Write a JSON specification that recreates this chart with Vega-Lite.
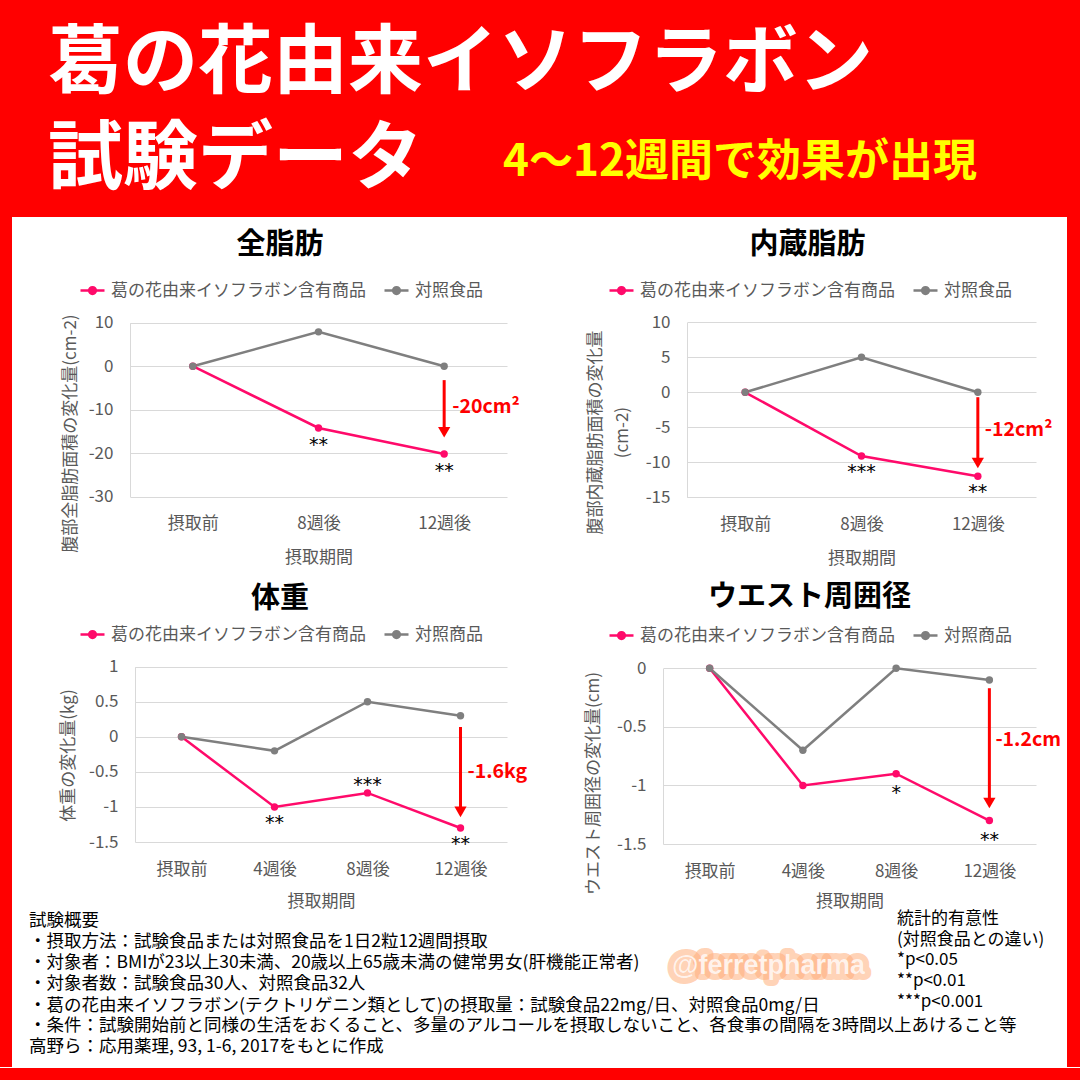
{
  "$schema": "https://vega.github.io/schema/vega-lite/v6.json",
  "background": "#ffffff",
  "padding": 0,
  "spacing": 0,
  "resolve": {"scale": {"color": "independent", "x": "independent", "y": "independent"}, "legend": {"color": "independent"}, "axis": {"x": "independent", "y": "independent"}},
  "datasets": {
    "fat_total": [
      {"period": "摂取前", "group": "葛の花由来イソフラボン含有商品", "value": 0},
      {"period": "8週後", "group": "葛の花由来イソフラボン含有商品", "value": -14.2},
      {"period": "12週後", "group": "葛の花由来イソフラボン含有商品", "value": -20.2},
      {"period": "摂取前", "group": "対照食品", "value": 0},
      {"period": "8週後", "group": "対照食品", "value": 7.9},
      {"period": "12週後", "group": "対照食品", "value": 0}
    ],
    "fat_total_sig": [
      {"period": "8週後", "value": -14.2, "stars": "**"},
      {"period": "12週後", "value": -20.2, "stars": "**"}
    ],
    "fat_total_arrow": [
      {"period": "12週後", "start": -3.2, "head": -15.2, "label_at": -9.4, "label": "-20cm²"}
    ],
    "fat_visceral": [
      {"period": "摂取前", "group": "葛の花由来イソフラボン含有商品", "value": 0},
      {"period": "8週後", "group": "葛の花由来イソフラボン含有商品", "value": -9.1},
      {"period": "12週後", "group": "葛の花由来イソフラボン含有商品", "value": -12.0},
      {"period": "摂取前", "group": "対照食品", "value": 0},
      {"period": "8週後", "group": "対照食品", "value": 5.0},
      {"period": "12週後", "group": "対照食品", "value": 0}
    ],
    "fat_visceral_sig": [
      {"period": "8週後", "value": -9.1, "stars": "***"},
      {"period": "12週後", "value": -12.0, "stars": "**"}
    ],
    "fat_visceral_arrow": [
      {"period": "12週後", "start": -0.7, "head": -10.1, "label_at": -5.4, "label": "-12cm²"}
    ],
    "weight": [
      {"period": "摂取前", "group": "葛の花由来イソフラボン含有商品", "value": 0},
      {"period": "4週後", "group": "葛の花由来イソフラボン含有商品", "value": -1.0},
      {"period": "8週後", "group": "葛の花由来イソフラボン含有商品", "value": -0.8},
      {"period": "12週後", "group": "葛の花由来イソフラボン含有商品", "value": -1.3},
      {"period": "摂取前", "group": "対照商品", "value": 0},
      {"period": "4週後", "group": "対照商品", "value": -0.2},
      {"period": "8週後", "group": "対照商品", "value": 0.5},
      {"period": "12週後", "group": "対照商品", "value": 0.3}
    ],
    "weight_sig": [
      {"period": "4週後", "value": -1.0, "stars": "**", "side": "below"},
      {"period": "8週後", "value": -0.8, "stars": "***", "side": "above"},
      {"period": "12週後", "value": -1.3, "stars": "**", "side": "below"}
    ],
    "weight_arrow": [
      {"period": "12週後", "start": 0.14, "head": -1.07, "label_at": -0.5, "label": "-1.6kg"}
    ],
    "waist": [
      {"period": "摂取前", "group": "葛の花由来イソフラボン含有商品", "value": 0},
      {"period": "4週後", "group": "葛の花由来イソフラボン含有商品", "value": -1.0},
      {"period": "8週後", "group": "葛の花由来イソフラボン含有商品", "value": -0.9},
      {"period": "12週後", "group": "葛の花由来イソフラボン含有商品", "value": -1.3},
      {"period": "摂取前", "group": "対照商品", "value": 0},
      {"period": "4週後", "group": "対照商品", "value": -0.7},
      {"period": "8週後", "group": "対照商品", "value": 0},
      {"period": "12週後", "group": "対照商品", "value": -0.1}
    ],
    "waist_sig": [
      {"period": "8週後", "value": -0.9, "stars": "*"},
      {"period": "12週後", "value": -1.3, "stars": "**"}
    ],
    "waist_arrow": [
      {"period": "12週後", "start": -0.17, "head": -1.15, "label_at": -0.61, "label": "-1.2cm"}
    ],
    "handle": [{"text": "@ferretpharma"}]
  },
  "vconcat": [
    {
      "vconcat": [
        {
          "width": 1080, "height": 108,
          "view": {"fill": "#ff0000", "stroke": null},
          "data": {"values": []},
          "mark": "point",
          "title": {"text": "葛の花由来イソフラボン", "anchor": "start", "frame": "group", "dx": 48, "offset": -102.75, "fontSize": 75, "fontWeight": "bold", "color": "#ffffff"}
        },
        {
          "hconcat": [
            {
              "width": 491, "height": 109,
              "view": {"fill": "#ff0000", "stroke": null},
              "data": {"values": []},
              "mark": "point",
              "title": {"text": "試験データ", "anchor": "start", "frame": "group", "dx": 48, "offset": -90.75, "fontSize": 75, "fontWeight": "bold", "color": "#ffffff"}
            },
            {
              "width": 589, "height": 109,
              "view": {"fill": "#ff0000", "stroke": null},
              "data": {"values": []},
              "mark": "point",
              "title": {"text": "4～12週間で効果が出現", "anchor": "start", "frame": "group", "dx": 12, "offset": -76.5, "fontSize": 44, "fontWeight": "bold", "color": "#ffff00"}
            }
          ],
          "spacing": 0,
          "bounds": "flush"
        }
      ],
      "spacing": 0
    },
    {
      "hconcat": [
        {"width": 12, "height": 850, "view": {"fill": "#ff0000", "stroke": null}, "data": {"values": []}, "mark": "point"},
        {
          "vconcat": [
            {
              "hconcat": [
                {
                  "width": 528, "height": 355,
                  "title": {"text": "全脂肪", "fontSize": 29, "fontWeight": "bold", "color": "#000000", "anchor": "middle", "frame": "group", "offset": -43, "dx": 4},
                  "layer": [
                    {
                      "data": {"name": "fat_total"},
                      "mark": {"type": "line", "strokeWidth": 2.5, "point": {"filled": true, "size": 55}},
                      "encoding": {
                        "x": {"field": "period", "type": "ordinal", "sort": ["摂取前", "8週後", "12週後"], "scale": {"type": "point", "domain": ["摂取前", "8週後", "12週後"], "range": [118, 495], "padding": 0.5}, "axis": {"title": "摂取期間", "offset": -75.3, "titleY": 61}},
                        "y": {"field": "value", "type": "quantitative", "scale": {"domain": [-30, 10], "range": [279.7, 105.7], "nice": false, "zero": false}, "axis": {"title": "腹部全脂肪面積の変化量(cm-2)", "values": [-30, -20, -10, 0, 10], "offset": -118, "titleX": -60, "titleY": 216, "labelExpr": "'' + datum.value"}},
                        "color": {"field": "group", "type": "nominal", "scale": {"domain": ["葛の花由来イソフラボン含有商品", "対照食品"], "range": ["#ff0a6a", "#7f7f7f"]}, "legend": {"title": null, "legendX": 67, "legendY": 60}}
                      }
                    },
                    {
                      "data": {"name": "fat_total_sig"},
                      "mark": {"type": "text", "font": "DejaVu Sans", "fontSize": 19, "color": "#000000", "dy": 17},
                      "encoding": {"x": {"field": "period", "type": "ordinal"}, "y": {"field": "value", "type": "quantitative"}, "text": {"field": "stars"}}
                    },
                    {
                      "data": {"name": "fat_total_arrow"},
                      "mark": {"type": "rule", "color": "#ff0000", "strokeWidth": 3},
                      "encoding": {"x": {"field": "period", "type": "ordinal"}, "y": {"field": "start", "type": "quantitative"}, "y2": {"field": "head"}}
                    },
                    {
                      "data": {"name": "fat_total_arrow"},
                      "mark": {"type": "point", "shape": "triangle-down", "filled": true, "color": "#ff0000", "size": 150, "opacity": 1},
                      "encoding": {"x": {"field": "period", "type": "ordinal"}, "y": {"field": "head", "type": "quantitative"}}
                    },
                    {
                      "data": {"name": "fat_total_arrow"},
                      "mark": {"type": "text", "align": "left", "dx": 8, "fontSize": 19.5, "fontWeight": "bold", "color": "#ff0000"},
                      "encoding": {"x": {"field": "period", "type": "ordinal"}, "y": {"field": "label_at", "type": "quantitative"}, "text": {"field": "label"}}
                    }
                  ]
                },
                {
                  "width": 527, "height": 355,
                  "title": {"text": "内蔵脂肪", "fontSize": 29, "fontWeight": "bold", "color": "#000000", "anchor": "middle", "frame": "group", "offset": -43, "dx": 4},
                  "layer": [
                    {
                      "data": {"name": "fat_visceral"},
                      "mark": {"type": "line", "strokeWidth": 2.5, "point": {"filled": true, "size": 55}},
                      "encoding": {
                        "x": {"field": "period", "type": "ordinal", "sort": ["摂取前", "8週後", "12週後"], "scale": {"type": "point", "domain": ["摂取前", "8週後", "12週後"], "range": [147, 496], "padding": 0.5}, "axis": {"title": "摂取期間", "offset": -74.7, "titleY": 61}},
                        "y": {"field": "value", "type": "quantitative", "scale": {"domain": [-15, 10], "range": [280.3, 105.3], "nice": false, "zero": false}, "axis": {"title": ["腹部内蔵脂肪面積の変化量", "(cm-2)"], "titleLineHeight": 27, "values": [-15, -10, -5, 0, 5, 10], "offset": -147, "titleX": -92, "titleY": 215, "labelExpr": "'' + datum.value"}},
                        "color": {"field": "group", "type": "nominal", "scale": {"domain": ["葛の花由来イソフラボン含有商品", "対照食品"], "range": ["#ff0a6a", "#7f7f7f"]}, "legend": {"title": null, "legendX": 68, "legendY": 60}}
                      }
                    },
                    {
                      "data": {"name": "fat_visceral_sig"},
                      "mark": {"type": "text", "font": "DejaVu Sans", "fontSize": 19, "color": "#000000", "dy": 16},
                      "encoding": {"x": {"field": "period", "type": "ordinal"}, "y": {"field": "value", "type": "quantitative"}, "text": {"field": "stars"}}
                    },
                    {
                      "data": {"name": "fat_visceral_arrow"},
                      "mark": {"type": "rule", "color": "#ff0000", "strokeWidth": 3},
                      "encoding": {"x": {"field": "period", "type": "ordinal"}, "y": {"field": "start", "type": "quantitative"}, "y2": {"field": "head"}}
                    },
                    {
                      "data": {"name": "fat_visceral_arrow"},
                      "mark": {"type": "point", "shape": "triangle-down", "filled": true, "color": "#ff0000", "size": 150, "opacity": 1},
                      "encoding": {"x": {"field": "period", "type": "ordinal"}, "y": {"field": "head", "type": "quantitative"}}
                    },
                    {
                      "data": {"name": "fat_visceral_arrow"},
                      "mark": {"type": "text", "align": "left", "dx": 7, "fontSize": 19.5, "fontWeight": "bold", "color": "#ff0000"},
                      "encoding": {"x": {"field": "period", "type": "ordinal"}, "y": {"field": "label_at", "type": "quantitative"}, "text": {"field": "label"}}
                    }
                  ]
                }
              ],
              "spacing": 0,
              "bounds": "flush",
              "resolve": {"scale": {"color": "independent", "x": "independent", "y": "independent"}, "legend": {"color": "independent"}, "axis": {"x": "independent", "y": "independent"}}
            },
            {
              "hconcat": [
                {
                  "width": 528, "height": 338,
                  "title": {"text": "体重", "fontSize": 29, "fontWeight": "bold", "color": "#000000", "anchor": "middle", "frame": "group", "offset": -42, "dx": 4},
                  "layer": [
                    {
                      "data": {"name": "weight"},
                      "mark": {"type": "line", "strokeWidth": 2.5, "point": {"filled": true, "size": 55}},
                      "encoding": {
                        "x": {"field": "period", "type": "ordinal", "sort": ["摂取前", "4週後", "8週後", "12週後"], "scale": {"type": "point", "domain": ["摂取前", "4週後", "8週後", "12週後"], "range": [123, 495], "padding": 0.5}, "axis": {"title": "摂取期間", "offset": -68, "titleY": 59}},
                        "y": {"field": "value", "type": "quantitative", "scale": {"domain": [-1.5, 1], "range": [270, 94.7], "nice": false, "zero": false}, "axis": {"title": "体重の変化量(kg)", "values": [-1.5, -1, -0.5, 0, 0.5, 1], "offset": -123, "titleX": -67, "titleY": 183, "labelExpr": "'' + datum.value"}},
                        "color": {"field": "group", "type": "nominal", "scale": {"domain": ["葛の花由来イソフラボン含有商品", "対照商品"], "range": ["#ff0a6a", "#7f7f7f"]}, "legend": {"title": null, "legendX": 67, "legendY": 49}}
                      }
                    },
                    {
                      "data": {"name": "weight_sig"},
                      "transform": [{"filter": "datum.side === 'below'"}],
                      "mark": {"type": "text", "font": "DejaVu Sans", "fontSize": 19, "color": "#000000", "dy": 16},
                      "encoding": {"x": {"field": "period", "type": "ordinal"}, "y": {"field": "value", "type": "quantitative"}, "text": {"field": "stars"}}
                    },
                    {
                      "data": {"name": "weight_sig"},
                      "transform": [{"filter": "datum.side === 'above'"}],
                      "mark": {"type": "text", "font": "DejaVu Sans", "fontSize": 19, "color": "#000000", "dy": -8},
                      "encoding": {"x": {"field": "period", "type": "ordinal"}, "y": {"field": "value", "type": "quantitative"}, "text": {"field": "stars"}}
                    },
                    {
                      "data": {"name": "weight_arrow"},
                      "mark": {"type": "rule", "color": "#ff0000", "strokeWidth": 3},
                      "encoding": {"x": {"field": "period", "type": "ordinal"}, "y": {"field": "start", "type": "quantitative"}, "y2": {"field": "head"}}
                    },
                    {
                      "data": {"name": "weight_arrow"},
                      "mark": {"type": "point", "shape": "triangle-down", "filled": true, "color": "#ff0000", "size": 150, "opacity": 1},
                      "encoding": {"x": {"field": "period", "type": "ordinal"}, "y": {"field": "head", "type": "quantitative"}}
                    },
                    {
                      "data": {"name": "weight_arrow"},
                      "mark": {"type": "text", "align": "left", "dx": 7, "fontSize": 19.5, "fontWeight": "bold", "color": "#ff0000"},
                      "encoding": {"x": {"field": "period", "type": "ordinal"}, "y": {"field": "label_at", "type": "quantitative"}, "text": {"field": "label"}}
                    }
                  ]
                },
                {
                  "width": 527, "height": 338,
                  "title": {"text": "ウエスト周囲径", "fontSize": 29, "fontWeight": "bold", "color": "#000000", "anchor": "middle", "frame": "group", "offset": -40, "dx": 6},
                  "layer": [
                    {
                      "data": {"name": "waist"},
                      "mark": {"type": "line", "strokeWidth": 2.5, "point": {"filled": true, "size": 55}},
                      "encoding": {
                        "x": {"field": "period", "type": "ordinal", "sort": ["摂取前", "4週後", "8週後", "12週後"], "scale": {"type": "point", "domain": ["摂取前", "4週後", "8週後", "12週後"], "range": [123, 496], "padding": 0.5}, "axis": {"title": "摂取期間", "offset": -66, "titleY": 57}},
                        "y": {"field": "value", "type": "quantitative", "scale": {"domain": [-1.5, 0], "range": [272, 96.3], "nice": false, "zero": false}, "axis": {"title": "ウエスト周囲径の変化量(cm)", "values": [-1.5, -1, -0.5, 0], "offset": -123, "titleX": -70, "titleY": 211, "labelExpr": "'' + datum.value"}},
                        "color": {"field": "group", "type": "nominal", "scale": {"domain": ["葛の花由来イソフラボン含有商品", "対照商品"], "range": ["#ff0a6a", "#7f7f7f"]}, "legend": {"title": null, "legendX": 68, "legendY": 50}}
                      }
                    },
                    {
                      "data": {"name": "waist_sig"},
                      "mark": {"type": "text", "font": "DejaVu Sans", "fontSize": 19, "color": "#000000", "dy": 19},
                      "encoding": {"x": {"field": "period", "type": "ordinal"}, "y": {"field": "value", "type": "quantitative"}, "text": {"field": "stars"}}
                    },
                    {
                      "data": {"name": "waist_arrow"},
                      "mark": {"type": "rule", "color": "#ff0000", "strokeWidth": 3},
                      "encoding": {"x": {"field": "period", "type": "ordinal"}, "y": {"field": "start", "type": "quantitative"}, "y2": {"field": "head"}}
                    },
                    {
                      "data": {"name": "waist_arrow"},
                      "mark": {"type": "point", "shape": "triangle-down", "filled": true, "color": "#ff0000", "size": 150, "opacity": 1},
                      "encoding": {"x": {"field": "period", "type": "ordinal"}, "y": {"field": "head", "type": "quantitative"}}
                    },
                    {
                      "data": {"name": "waist_arrow"},
                      "mark": {"type": "text", "align": "left", "dx": 6, "fontSize": 19.5, "fontWeight": "bold", "color": "#ff0000"},
                      "encoding": {"x": {"field": "period", "type": "ordinal"}, "y": {"field": "label_at", "type": "quantitative"}, "text": {"field": "label"}}
                    }
                  ]
                }
              ],
              "spacing": 0,
              "bounds": "flush",
              "resolve": {"scale": {"color": "independent", "x": "independent", "y": "independent"}, "legend": {"color": "independent"}, "axis": {"x": "independent", "y": "independent"}}
            },
            {
              "vconcat": [
                {
                  "hconcat": [
                    {
                      "width": 638, "height": 104,
                      "data": {"values": []},
                      "mark": "point",
                      "title": {
                        "text": [
                          "試験概要",
                          "・摂取方法：試験食品または対照食品を1日2粒12週間摂取",
                          "・対象者：BMIが23以上30未満、20歳以上65歳未満の健常男女(肝機能正常者)",
                          "・対象者数：試験食品30人、対照食品32人",
                          "・葛の花由来イソフラボン(テクトリゲニン類として)の摂取量：試験食品22mg/日、対照食品0mg/日"
                        ],
                        "anchor": "start", "frame": "group", "dx": 17, "offset": -103.1, "fontSize": 17.5, "fontWeight": "normal", "color": "#000000", "lineHeight": 21.2
                      }
                    },
                    {
                      "width": 237, "height": 104,
                      "data": {"name": "handle"},
                      "layer": [
                        {
                          "mark": {"type": "text", "font": "Liberation Sans", "fontSize": 27, "fontWeight": "bold", "dy": 3, "color": "#ffa56b", "stroke": "#ffa56b", "strokeWidth": 12, "strokeOpacity": 0.55, "strokeJoin": "round", "opacity": 0.9},
                          "encoding": {"text": {"field": "text"}}
                        },
                        {
                          "mark": {"type": "text", "font": "Liberation Sans", "fontSize": 27, "fontWeight": "bold", "dy": 3, "color": "#ffffff", "opacity": 0.85},
                          "encoding": {"text": {"field": "text"}}
                        }
                      ]
                    },
                    {
                      "width": 180, "height": 104,
                      "data": {"values": []},
                      "mark": "point",
                      "title": {
                        "text": ["統計的有意性", "(対照食品との違い)", "*p<0.05", "**p<0.01", "***p<0.001"],
                        "anchor": "start", "frame": "group", "dx": 10, "offset": -99.6, "fontSize": 17, "fontWeight": "normal", "color": "#000000", "lineHeight": 20.6
                      }
                    }
                  ],
                  "spacing": 0,
                  "bounds": "flush"
                },
                {
                  "width": 1055, "height": 53,
                  "data": {"values": []},
                  "mark": "point",
                  "title": {
                    "text": [
                      "・条件：試験開始前と同様の生活をおくること、多量のアルコールを摂取しないこと、各食事の間隔を3時間以上あけること等",
                      "高野ら：応用薬理, 93, 1-6, 2017をもとに作成"
                    ],
                    "anchor": "start", "frame": "group", "dx": 17, "offset": -40.5, "fontSize": 17.5, "fontWeight": "normal", "color": "#000000", "lineHeight": 21.2
                  }
                }
              ],
              "spacing": 0
            }
          ],
          "spacing": 0,
          "resolve": {"scale": {"color": "independent", "x": "independent", "y": "independent"}, "legend": {"color": "independent"}, "axis": {"x": "independent", "y": "independent"}}
        },
        {"width": 13, "height": 850, "view": {"fill": "#ff0000", "stroke": null}, "data": {"values": []}, "mark": "point"}
      ],
      "spacing": 0,
      "resolve": {"scale": {"color": "independent", "x": "independent", "y": "independent"}, "legend": {"color": "independent"}, "axis": {"x": "independent", "y": "independent"}}
    },
    {"width": 1080, "height": 13, "view": {"fill": "#ff0000", "stroke": null}, "data": {"values": []}, "mark": "point"}
  ],
  "config": {
    "font": "Noto Sans CJK JP",
    "view": {"stroke": null},
    "concat": {"spacing": 0},
    "title": {"font": "Noto Sans CJK JP"},
    "text": {"font": "Noto Sans CJK JP"},
    "axis": {
      "labelFont": "Noto Sans CJK JP", "labelFontSize": 17, "labelColor": "#595959",
      "titleFont": "Noto Sans CJK JP", "titleFontSize": 17, "titleColor": "#595959", "titleFontWeight": "normal",
      "ticks": false, "labelPadding": 17, "gridColor": "#d9d9d9", "gridWidth": 1, "domainColor": "#d9d9d9",
      "titleBaseline": "middle", "titleAlign": "center", "labelOverlap": false, "labelBound": false, "labelFlush": false
    },
    "axisX": {"grid": false, "domain": false, "labelAngle": 0, "labelPadding": 19},
    "axisY": {"grid": true, "domain": true, "titleAngle": -90},
    "legend": {
      "orient": "none", "direction": "horizontal",
      "labelFont": "Noto Sans CJK JP", "labelFontSize": 17, "labelColor": "#595959",
      "symbolType": "M-1,0H1M-0.28,0A0.28,0.28,0,1,1,0.28,0A0.28,0.28,0,1,1,-0.28,0M-0.12,0A0.12,0.12,0,1,1,0.12,0A0.12,0.12,0,1,1,-0.12,0",
      "symbolSize": 576, "symbolStrokeWidth": 2.5, "labelOffset": 5, "columnPadding": 13, "labelLimit": 400, "padding": 0
    }
  }
}
